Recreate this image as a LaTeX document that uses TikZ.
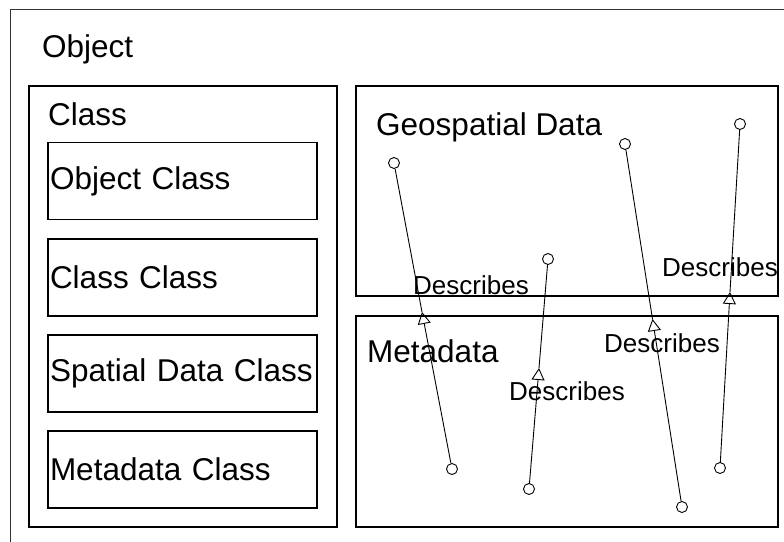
\documentclass[tikz,border=0pt]{standalone}
\usepackage{fontspec}
\setmainfont{Liberation Sans}
\usetikzlibrary{arrows.meta}

\tikzset{
    box/.style={draw, line width=1.4pt, rectangle, inner sep=0pt},
    clsbox/.style={box, minimum width=269pt, minimum height=77pt,
        text width=265pt, align=left, font=\fontsize{31.5}{36}\selectfont},
    title/.style={anchor=base west, inner sep=0pt, font=\fontsize{31.5}{36}\selectfont},
    port/.style={circle, draw, fill=white, line width=0.9pt, minimum size=11pt, inner sep=0pt},
    desc/.style={line width=0.9pt, -{Triangle[open, length=12pt, width=13pt]}},
    desclabel/.style={anchor=base, inner sep=0pt, font=\fontsize{26}{30}\selectfont},
}

\begin{document}
\begin{tikzpicture}[x=1pt, y=-1pt]
                \useasboundingbox (0,0) rectangle (784,541);

                % containers
                \draw[line width=1pt, draw=black!80] (10,9) rectangle (800,560);
                \node[title] (object) at (42,57) {Object};

                \node[box, minimum width=308pt, minimum height=441pt] (class) at (183,306.5) {};
                \node[title] (classt) at (48,125) {Class};

                \node[box, minimum width=422pt, minimum height=210pt] (geo) at (567,191) {};
                \node[title] (geot) at (376,135) {Geospatial Data};

                \node[box, minimum width=422pt, minimum height=211pt] (meta) at (567,421.5) {};
                \node[title] (metat) at (367,362) {Metadata};

                % classes
                \node[clsbox] (objcls) at (182.5,181) {Object Class};
                \node[clsbox] (clscls) at (182.5,277.5) {Class Class};
                \node[clsbox] (spacls) at (182.5,373.5) {Spatial\ Data\ Class};
                \node[clsbox] (metcls) at (182.5,469.5) {Metadata Class};

                % describes links
                \begin{scope}[every node/.style={port}]
                    \node (t1) at (394,163) {};
                    \node (b1) at (452,469) {};
                    \node (t2) at (548,259) {};
                    \node (b2) at (529,489) {};
                    \node (t3) at (625,144) {};
                    \node (b3) at (682,507) {};
                    \node (t4) at (740,124) {};
                    \node (b4) at (720,468) {};
                \end{scope}

                \coordinate (m1) at (422,312);
                \coordinate (m2) at (539,368);
                \coordinate (m3) at (652.5,319);
                \coordinate (m4) at (730,292);

                \draw[desc] (b1) -- (m1);
                \draw[line width=0.9pt] (m1) -- (t1);
                \draw[desc] (b2) -- (m2);
                \draw[line width=0.9pt] (m2) -- (t2);
                \draw[desc] (b3) -- (m3);
                \draw[line width=0.9pt] (m3) -- (t3);
                \draw[desc] (b4) -- (m4);
                \draw[line width=0.9pt] (m4) -- (t4);

                \node[desclabel] (d1) at (471,294) {Describes};
                \node[desclabel] (d2) at (567,400) {Describes};
                \node[desclabel] (d3) at (662,352) {Describes};
                \node[desclabel] (d4) at (720,276) {Describes};
            \end{tikzpicture}
\end{document}
